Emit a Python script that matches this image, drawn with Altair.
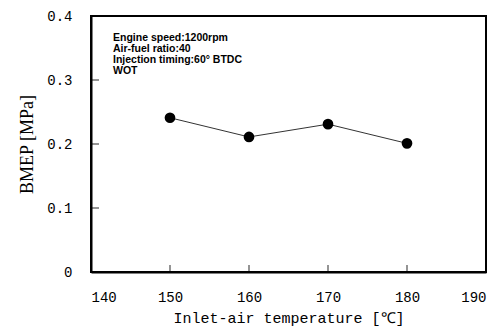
import altair as alt
import pandas as pd

temps = [150, 160, 170, 180]
bmep = [0.241, 0.211, 0.231, 0.201]
y_ticks = [0.1, 0.2, 0.3]
x_ticks = [150, 160, 170, 180]
notes = ["Engine speed:1200rpm", "Air-fuel ratio:40", "Injection timing:60\u00b0 BTDC", "WOT"]

df = pd.DataFrame({"t": temps, "b": bmep})
dyt = pd.DataFrame({"v": y_ticks})
dxt = pd.DataFrame({"v": x_ticks})

xscale = alt.Scale(domain=[140, 190], nice=False, zero=False)
yscale = alt.Scale(domain=[0, 0.4], nice=False)

common = dict(grid=False, ticks=False, domainColor="black", domainWidth=2,
              labelFont="Liberation Mono", labelFontSize=14, labelColor="black",
              titleColor="black", titleFontWeight="normal")

xaxis = alt.Axis(values=[140, 150, 160, 170, 180, 190], title="Inlet-air temperature [\u2103]",
                 titleFont="Liberation Mono", titleFontSize=15,
                 titlePadding=6, labelPadding=18, **common)
yaxis = alt.Axis(values=[0, 0.1, 0.2, 0.3, 0.4], title="BMEP [MPa]",
                 labelExpr="datum.value == 0 ? '0' : format(datum.value, '.1f')",
                 titleFont="Liberation Serif", titleFontSize=18,
                 titlePadding=10, labelPadding=19, **common)

line = alt.Chart(df).mark_line(color="#333333", strokeWidth=1).encode(
    x=alt.X("t:Q", scale=xscale, axis=xaxis),
    y=alt.Y("b:Q", scale=yscale, axis=yaxis),
)
pts = alt.Chart(df).mark_point(filled=True, color="black", size=115, opacity=1).encode(
    x=alt.X("t:Q", scale=xscale),
    y=alt.Y("b:Q", scale=yscale),
)
ytk = alt.Chart(dyt).mark_tick(color="black", thickness=1.2, size=8, orient="horizontal").encode(
    x=alt.value(4), y=alt.Y("v:Q", scale=yscale)
)
xtk = alt.Chart(dxt).mark_tick(color="black", thickness=1.2, size=7, orient="vertical").encode(
    x=alt.X("v:Q", scale=xscale), y=alt.value(252.5)
)
note = alt.Chart(pd.DataFrame({"a": [0]})).mark_text(
    text=notes, align="left", baseline="top", font="Liberation Sans", fontWeight="bold",
    fontSize=10.5, lineHeight=11, color="black"
).encode(x=alt.value(22), y=alt.value(17))

chart = alt.layer(line, pts, ytk, xtk, note).properties(
    width=395, height=256,
    autosize=alt.AutoSizeParams(type="none"),
    padding={"left": 91, "top": 16, "right": 16, "bottom": 60},
).configure(background="white").configure_view(stroke="black", strokeWidth=2)

chart.save("out.html", embed_options={"renderer": "svg", "actions": False})
